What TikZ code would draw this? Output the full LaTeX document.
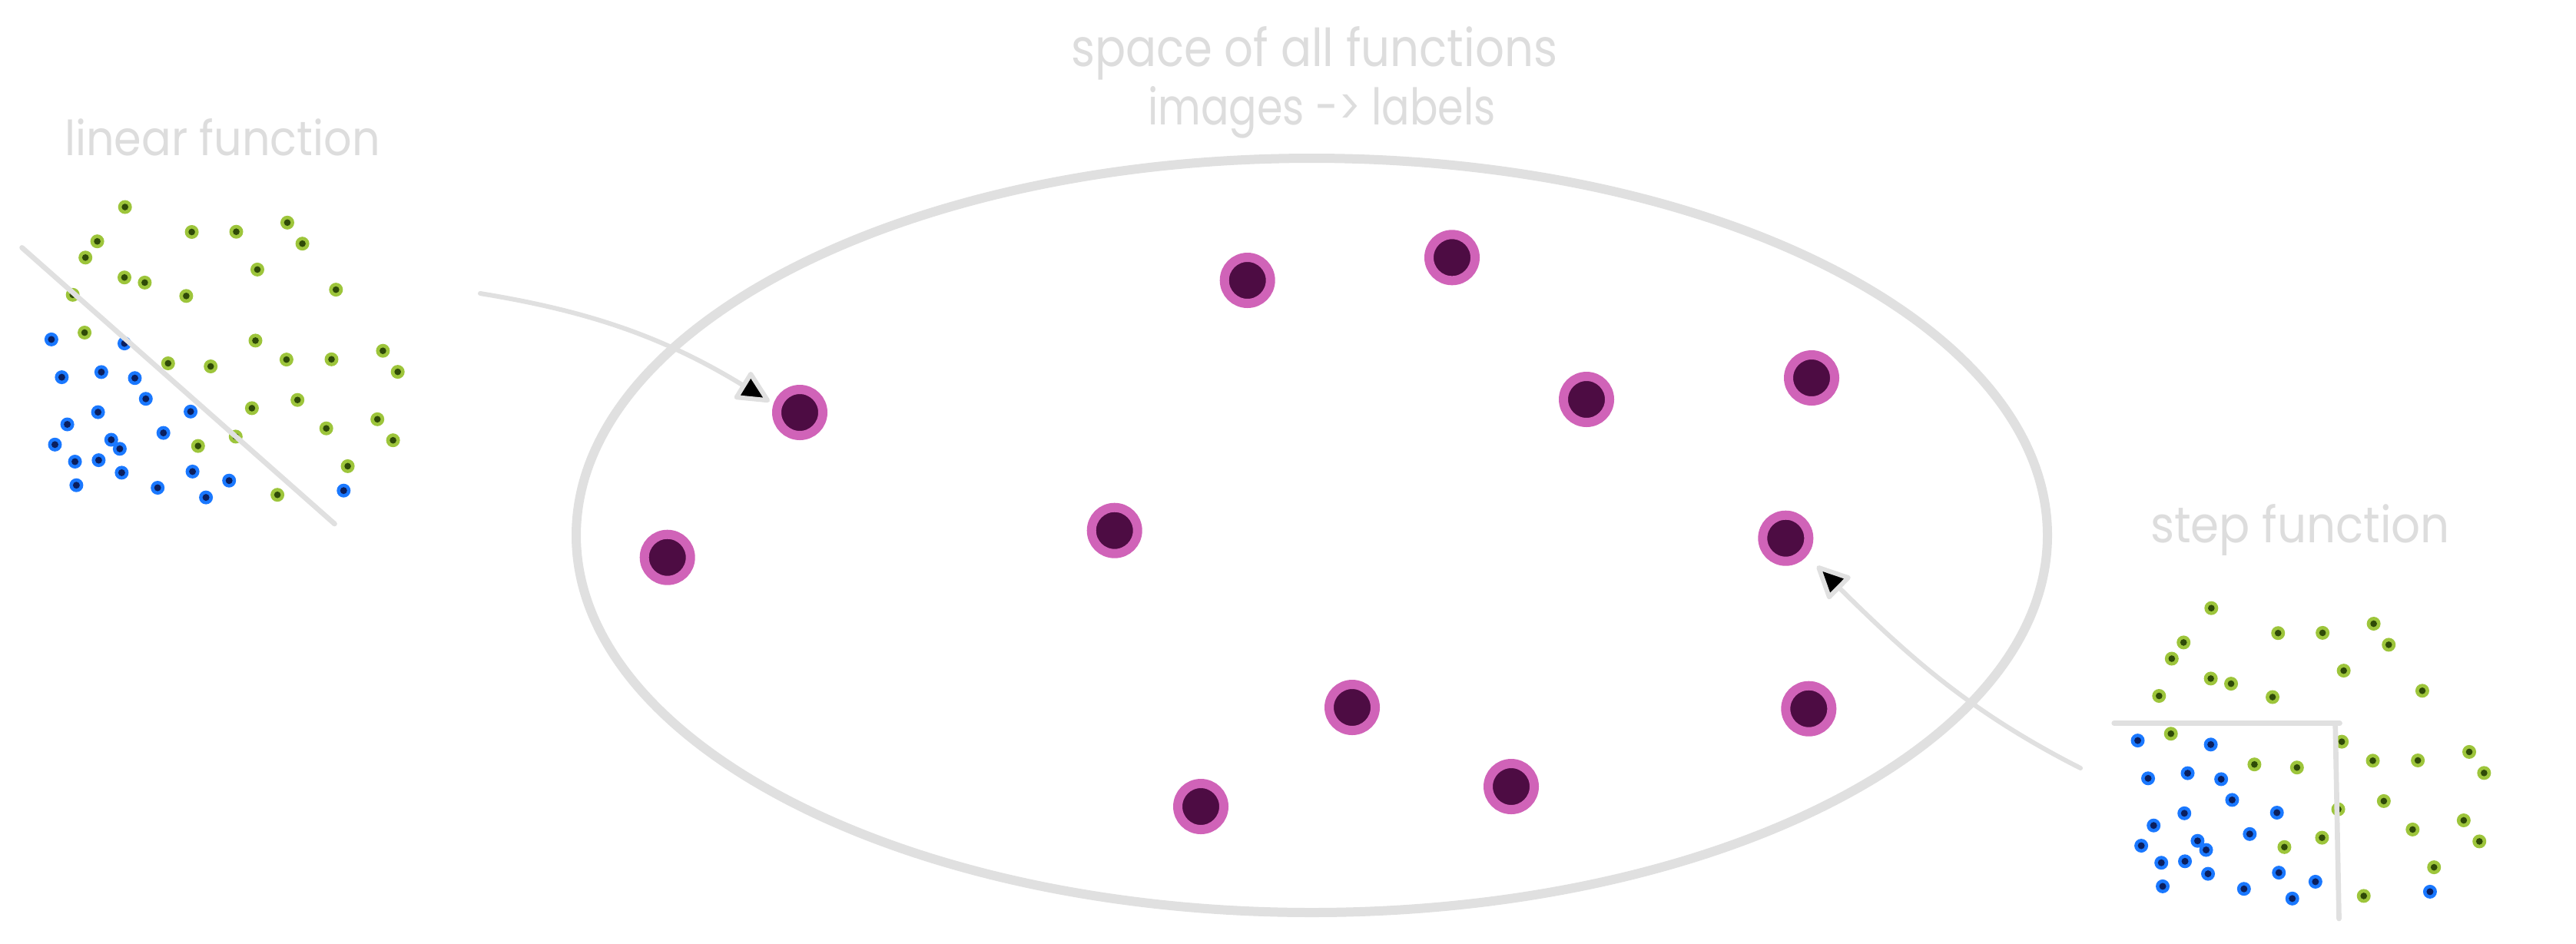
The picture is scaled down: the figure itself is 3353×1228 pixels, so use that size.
\documentclass[tikz,border=0pt]{standalone}
\usepackage{fontspec}
\setmainfont{Poppins}
\usepackage{graphicx}
\usetikzlibrary{arrows.meta,shapes.geometric}
\definecolor{sk}{HTML}{E0E0E0}
\definecolor{txt}{HTML}{DDDDDD}
\definecolor{gout}{HTML}{9DC53B}
\definecolor{gin}{HTML}{2F4A08}
\definecolor{bout}{HTML}{1A78FF}
\definecolor{bin}{HTML}{0B1F5E}
\definecolor{pout}{HTML}{D063B8}
\definecolor{pin}{HTML}{4D0C43}
\def\greenpts{162.7/269.5, 249.6/302.0, 307.5/301.7, 374.0/289.8, 393.6/317.2,
126.6/314.2, 111.2/335.3, 335.0/350.9, 162.0/361.2, 188.4/367.9, 242.4/385.3,
437.3/377.1, 94.7/383.8, 110.1/433.0, 332.5/443.4, 218.8/473.0, 274.2/477.0,
372.9/468.1, 431.5/467.8, 498.4/456.7, 517.7/484.1, 327.9/531.4, 387.2/520.7,
306.8/568.4, 424.7/557.7, 491.2/545.8, 511.6/573.2, 257.8/580.6, 452.6/606.9,
361.1/644.2}
\def\bluepts{66.9/441.9, 162.0/447.1, 80.4/491.1, 131.9/484.4, 175.5/492.2,
189.8/519.2, 127.6/536.6, 248.1/535.8, 87.6/552.5, 212.7/563.6, 71.5/578.8,
144.8/572.5, 155.9/584.3, 97.6/601.0, 128.4/599.1, 158.4/615.4, 250.6/613.9,
298.2/625.7, 99.4/631.7, 205.2/635.0, 268.1/647.6, 447.3/638.7}
\tikzset{
  pdot/.style={circle, fill=pin, draw=pout, line width=3.6pt, minimum size=18pt, inner sep=0pt},
  sketchline/.style={draw=sk, line width=2pt, line cap=round},
  conn/.style={draw=sk, line width=1.8pt, line cap=round,
    -{Triangle[length=14pt,width=13pt,fill=black,round]}},
  lbl/.style={text=txt, inner sep=0pt, outer sep=0pt, anchor=base west},
  space/.style={ellipse, draw=sk, line width=3.6pt, inner sep=0pt,
    minimum width=574.5pt, minimum height=294.6pt}
}
\newcommand{\drawdata}{%
  \foreach \x/\y in \greenpts {\fill[gout] (\x,\y) circle (2.7pt); \fill[gin] (\x,\y) circle (1.3pt);}
  \foreach \x/\y in \bluepts {\fill[bout] (\x,\y) circle (2.7pt); \fill[bin] (\x,\y) circle (1.35pt);}
}
\begin{document}
\begin{tikzpicture}[x=0.3pt,y=-0.3pt]
\useasboundingbox[fill=white] (0,0) rectangle (3353,1228);

% titles
\node[lbl] (tspace) at (1394,86) {\resizebox{189.9pt}{15.6pt}{space of all functions}};
\node[lbl] (tmap) at (1494,162) {\resizebox{135.9pt}{15pt}{images -> labels}};
\node[lbl] (tlin) at (84,202) {\resizebox{123.3pt}{14.4pt}{linear function}};
\node[lbl] (tstep) at (2799,706.6) {\resizebox{117pt}{15pt}{step function}};

% space of all functions
\node[space] (space) at (1707.5,697) {};

% functions
\node[pdot] (p1) at (1041,537) {};
\node[pdot] (p2) at (1623.7,365) {};
\node[pdot] (p3) at (1890,335.3) {};
\node[pdot] (p4) at (2065,520) {};
\node[pdot] (p5) at (2358,492) {};
\node[pdot] (p6) at (868.7,725.7) {};
\node[pdot] (p7) at (1450.7,690.7) {};
\node[pdot] (p8) at (2324.3,700.7) {};
\node[pdot] (p9) at (1760,921) {};
\node[pdot] (p10) at (2354.3,922.7) {};
\node[pdot] (p11) at (1563,1050) {};
\node[pdot] (p12) at (1967,1024) {};

% linear classifier
\drawdata
\coordinate (l1) at (28.6,322.4);
\coordinate (l2) at (435.5,682);
\draw[sketchline] (l1) -- (l2);

% step classifier
\begin{scope}[shift={(2715.6,522.2)}]
\drawdata
\end{scope}
\coordinate (s1) at (2751.7,941.5);
\coordinate (s2) at (3045.5,941.5);
\coordinate (s3) at (3039.7,944);
\coordinate (s4) at (3044.5,1196);
\draw[sketchline] (s1) -- (s2);
\draw[sketchline] (s3) -- (s4);

% arrows
\coordinate (a1) at (625,382);
\draw[conn, shorten >=1.8pt] (a1) .. controls (760,404) and (860,436) .. (p1.162);
\coordinate (a2) at (2708,1000);
\draw[conn, shorten >=5.6pt] (a2) .. controls (2560,925) and (2480,850) .. (p8.-40);
\end{tikzpicture}
\end{document}
